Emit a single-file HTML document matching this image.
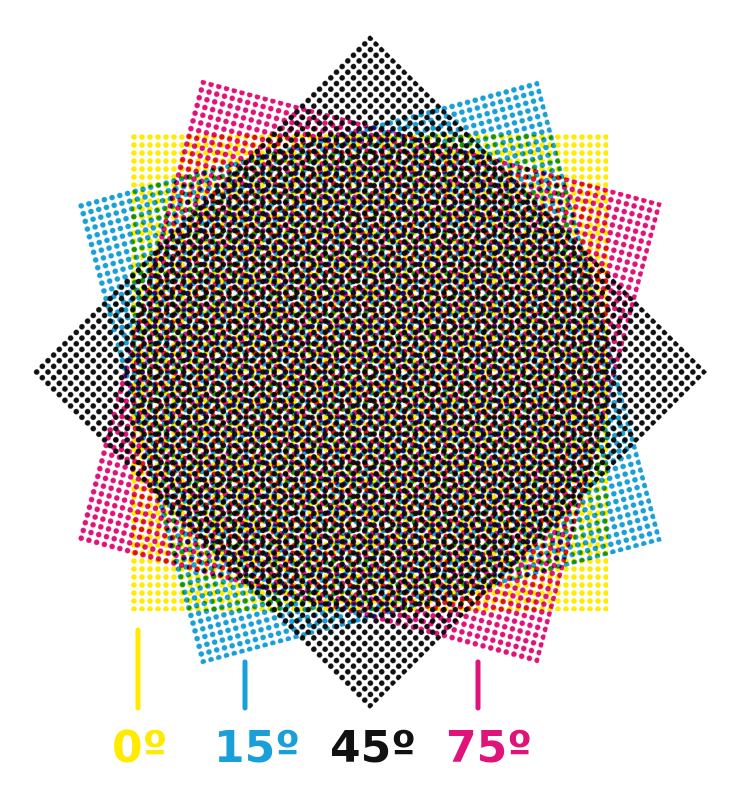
<!DOCTYPE html>
<html><head><meta charset="utf-8">
<style>
html,body{margin:0;padding:0;background:#fff;}
body{width:736px;height:799px;overflow:hidden;position:relative;}
svg{position:absolute;left:0;top:0;}
.lab{font-family:"DejaVu Sans","Liberation Sans",sans-serif;font-weight:bold;font-size:44px;}
</style></head>
<body>
<svg id="chart" width="736" height="799"></svg>
<script>
const screenAngles = [0, 15, 45, 75];
const screenColors = ["#ffea00", "#1aa0d8", "#111111", "#e0137a"];
const screenLabels = ["0º", "15º", "45º", "75º"];
const screenNames = ["yellow", "cyan", "black", "magenta"];

const NS = "http://www.w3.org/2000/svg";
const svg = document.getElementById("chart");
const cx = 369, cy = 372, side = 478, step = 8, r = 2.8;
const defs = document.createElementNS(NS, "defs");
svg.appendChild(defs);
const order = [0, 1, 3, 2];
order.forEach(i => {
  const p = document.createElementNS(NS, "pattern");
  p.setAttribute("id", "pat" + i);
  p.setAttribute("patternUnits", "userSpaceOnUse");
  p.setAttribute("width", step);
  p.setAttribute("height", step);
  p.setAttribute("x", cx - side / 2);
  p.setAttribute("y", cy - side / 2);
  const c = document.createElementNS(NS, "circle");
  c.setAttribute("cx", step / 2); c.setAttribute("cy", step / 2); c.setAttribute("r", r);
  c.setAttribute("fill", screenColors[i]);
  p.appendChild(c);
  defs.appendChild(p);
  const rect = document.createElementNS(NS, "rect");
  
  
  rect.setAttribute("x", cx - side / 2);
  rect.setAttribute("y", cy - side / 2);
  rect.setAttribute("width", side);
  rect.setAttribute("height", side);
  rect.setAttribute("fill", "url(#pat" + i + ")");
  rect.setAttribute("transform", "rotate(" + (-screenAngles[i]) + " " + cx + " " + cy + ")");
  rect.style.mixBlendMode = "multiply";
  svg.appendChild(rect);
});
const lineX = [138, 245, null, 478];
const lineTop = [630, 662, null, 662];
const labelX = [112, 214, 330, 446];
screenAngles.forEach((a, i) => {
  if (lineX[i] !== null) {
    const l = document.createElementNS(NS, "line");
    
    
    l.setAttribute("x1", lineX[i]); l.setAttribute("x2", lineX[i]);
    l.setAttribute("y1", lineTop[i]); l.setAttribute("y2", 708);
    l.setAttribute("stroke", screenColors[i]);
    l.setAttribute("stroke-width", 5);
    l.setAttribute("stroke-linecap", "round");
    svg.appendChild(l);
  }
  const t = document.createElementNS(NS, "text");
  
  
  t.setAttribute("x", labelX[i]); t.setAttribute("y", 762);
  t.setAttribute("class", "lab");
  t.setAttribute("fill", screenColors[i]);
  t.textContent = screenLabels[i];
  svg.appendChild(t);
});
</script>
</body></html>
